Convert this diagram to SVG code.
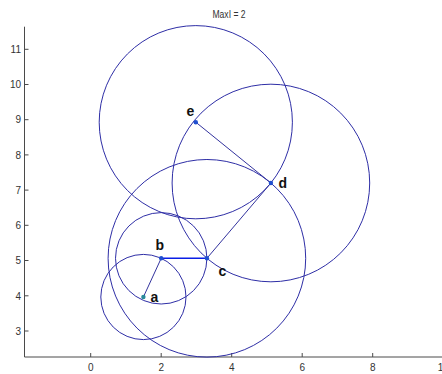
<svg xmlns="http://www.w3.org/2000/svg" width="442" height="374" viewBox="0 0 442 374">
<style>
.ax{stroke:#4a4a4a;stroke-width:1;fill:none}
.tl{font-family:"Liberation Sans",Arial,sans-serif;font-size:10px;fill:#333}
.ring{fill:none;stroke:#2e2ea6;stroke-width:1}
.lbl{font-family:"Liberation Sans",Arial,sans-serif;font-size:14px;font-weight:bold;fill:#111}
.dot{fill:#1f4fd0}
.edge{stroke:#33339e;stroke-width:1;fill:none}
</style>
<rect width="442" height="374" fill="#fff"/>
<text class="tl" x="229" y="17.5" text-anchor="middle" textLength="33" lengthAdjust="spacingAndGlyphs">MaxI = 2</text>
<g id="axes">
<path class="ax" d="M24.5 26.7V357H442"/>
<path class="ax" d="M24.5 49.3h4M24.5 84.5h4M24.5 119.7h4M24.5 154.9h4M24.5 190.1h4M24.5 225.3h4M24.5 260.5h4M24.5 295.8h4M24.5 331h4"/>
<path class="ax" d="M90.7 357v-4M161.2 357v-4M231.7 357v-4M302.2 357v-4M372.7 357v-4"/>
<g class="tl" text-anchor="end">
<text x="21" y="53">11</text><text x="21" y="88.2">10</text><text x="21" y="123.4">9</text><text x="21" y="158.6">8</text><text x="21" y="193.8">7</text><text x="21" y="229">6</text><text x="21" y="264.2">5</text><text x="21" y="299.5">4</text><text x="21" y="334.7">3</text>
</g>
<g class="tl" text-anchor="middle">
<text x="90.7" y="370.5">0</text><text x="161.2" y="370.5">2</text><text x="231.7" y="370.5">4</text><text x="302.2" y="370.5">6</text><text x="372.7" y="370.5">8</text><text x="443.2" y="370.5">10</text>
</g>
</g>
<g id="circles">
<circle class="ring" cx="143.4" cy="297" r="42.6"/>
<circle class="ring" cx="161.2" cy="258.3" r="45.7"/>
<circle class="ring" cx="206.9" cy="258.3" r="98.8"/>
<circle class="ring" cx="270.9" cy="183" r="98.8"/>
<circle class="ring" cx="195.8" cy="122.2" r="96.6"/>
</g>
<g id="connectors">
<line class="edge" x1="143.4" y1="297" x2="161.2" y2="258.3" stroke="#45509a"/>
<line x1="161.2" y1="258.3" x2="206.9" y2="258.3" stroke="#0a1ee6" stroke-width="1.4"/>
<line class="edge" x1="206.9" y1="258.3" x2="270.9" y2="183"/>
<line class="edge" x1="270.9" y1="183" x2="195.8" y2="122.2"/>
</g>
<g id="node-a"><circle cx="143.4" cy="297" r="2.2" fill="#2a8a9a"/><text class="lbl" x="150.5" y="301.5">a</text></g>
<g id="node-b"><circle class="dot" cx="161.2" cy="258.3" r="2.2"/><text class="lbl" x="155.5" y="249.5">b</text></g>
<g id="node-c"><circle class="dot" cx="206.9" cy="258.3" r="2.2"/><text class="lbl" x="218.5" y="275.5">c</text></g>
<g id="node-d"><circle class="dot" cx="270.9" cy="183" r="2.2"/><text class="lbl" x="278.5" y="187.5">d</text></g>
<g id="node-e"><circle class="dot" cx="195.8" cy="122.2" r="2.2"/><text class="lbl" x="186.5" y="116">e</text></g>
</svg>
